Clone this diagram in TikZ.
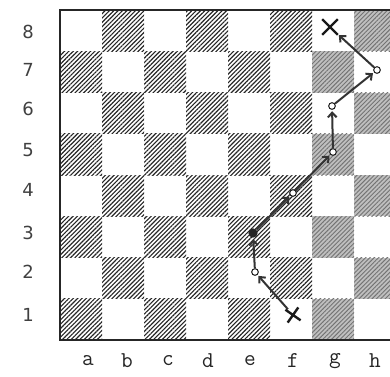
\documentclass[tikz,border=0pt]{standalone}
\usepackage{fontspec}
\newfontfamily\rankfont{DejaVu Sans}
\usetikzlibrary{patterns.meta,arrows.meta,shapes.misc}
\begin{document}
\begin{tikzpicture}[x=0.75pt,y=-0.75pt,
  darksq/.style={pattern={Lines[angle=45,distance=2.3pt,line width=0.85pt]},pattern color=black!85},
  greysq/.style={preaction={fill=black!25},pattern={Lines[angle=45,distance=2.3pt,line width=0.7pt]},pattern color=black!55},
  lbl/.style={text=black!75,font=\fontsize{13.5}{16}\selectfont},
  stop/.style={circle,draw=black!85,fill=white,line width=0.8pt,inner sep=0pt,minimum size=5pt},
  blob/.style={circle,fill=black!85,inner sep=0pt,minimum size=7pt},
  xmark/.style={cross out,draw=black!90,line width=1.8pt,inner sep=0pt,minimum size=8pt},
  pathline/.style={line width=1.5pt,draw=black!80,-{Straight Barb[length=3.5pt,width=6.5pt]},shorten >=1pt}]
\useasboundingbox (0,0) rectangle (390,376);
\begin{scope}
\clip (0,0) rectangle (390,376);
\foreach \f in {0,...,7}{
  \foreach \r in {1,...,8}{
    \pgfmathtruncatemacro{\sqparity}{mod(\f+1+\r,2)}
    \ifnum\sqparity=0
      \ifnum\f>5
        \fill[greysq] ({60+\f*42},{10+(8-\r)*41.25}) rectangle ++(42,41.25);
      \else
        \fill[darksq] ({60+\f*42},{10+(8-\r)*41.25}) rectangle ++(42,41.25);
      \fi
    \fi
  }
}
\draw[line width=1.4pt,black!85] (392,10) -- (60,10) -- (60,340) -- (392,340);
\end{scope}
% ranks
\foreach \r/\y in {8/32,7/70,6/109,5/150,4/190,3/233,2/272,1/315}
  \node[lbl,font=\rankfont\fontsize{13.5}{16}\selectfont] (rank\r) at (28,\y) {\r};
% files
\foreach \f/\x in {a/88,b/127,c/168,d/208,e/250,f/293,g/335,h/375}
  \node[lbl,text=black!85,font=\ttfamily\fontsize{17}{18}\selectfont] (file\f) at (\x,361) {\f};
% path
\node[xmark,rotate=10] (sf1) at (293,315) {};
\node[stop] (se2) at (255,272) {};
\node[blob] (se3) at (253,233) {};
\node[stop] (sf4) at (293,193) {};
\node[stop] (sg5) at (333,152) {};
\node[stop] (sg6) at (332,106) {};
\node[stop] (sh7) at (377,70) {};
\node[xmark,minimum size=10pt] (sg8) at (330,27) {};
\draw[pathline] (sf1) -- (se2);
\draw[pathline] (se2) -- (se3);
\draw[pathline] (se3) -- (sf4);
\draw[pathline] (sf4) -- (sg5);
\draw[pathline] (sg5) -- (sg6);
\draw[pathline] (sg6) -- (sh7);
\draw[pathline] (sh7) -- (sg8);
\end{tikzpicture}
\end{document}
